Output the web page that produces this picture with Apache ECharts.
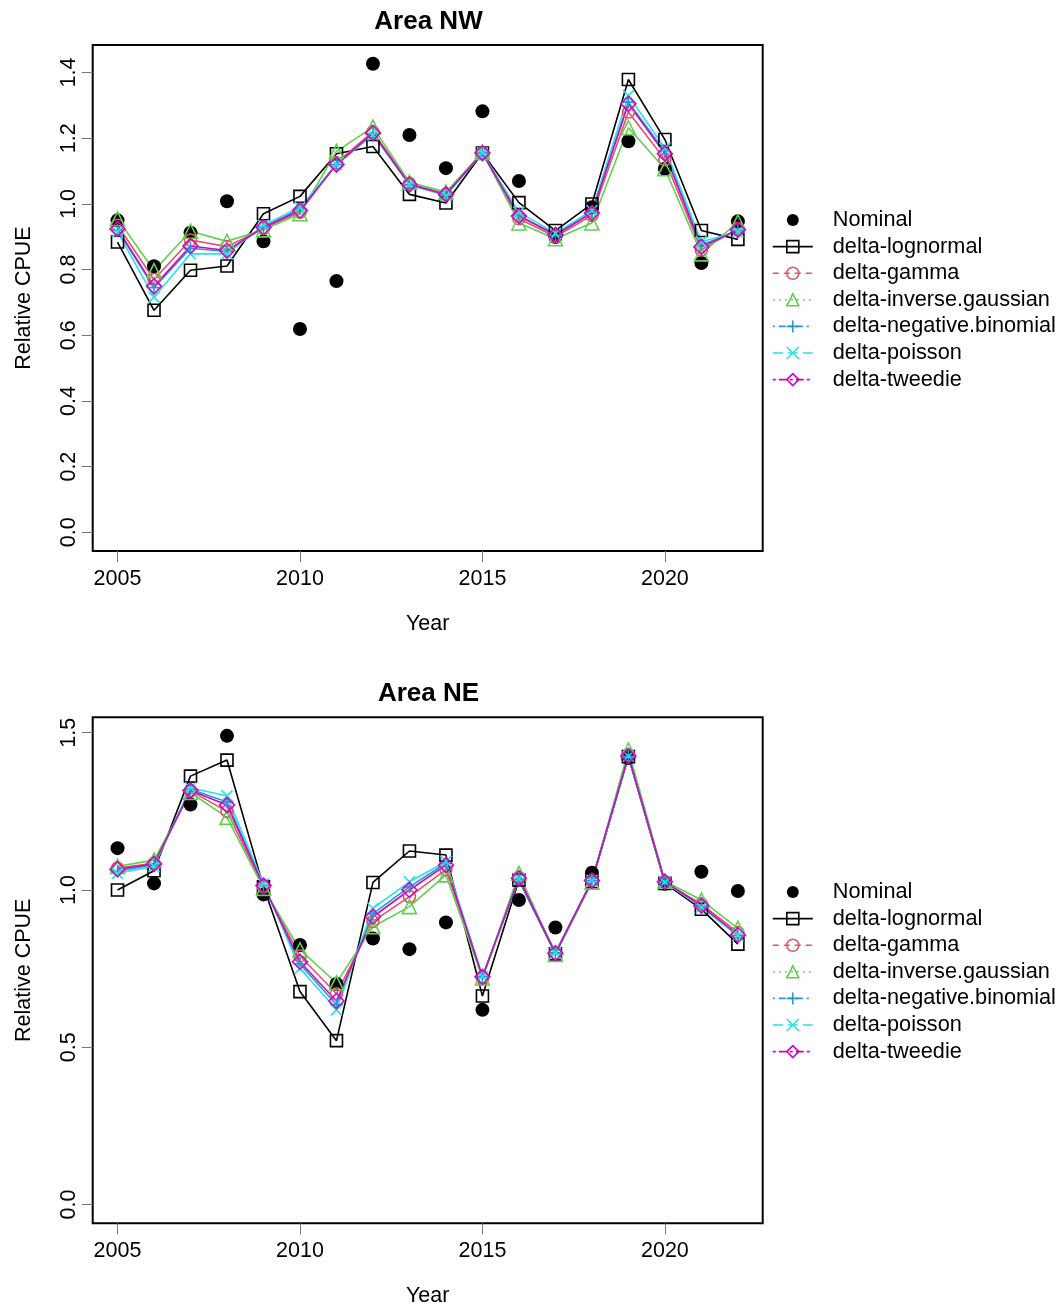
<!DOCTYPE html>
<html>
<head>
<meta charset="utf-8">
<script src="https://cdn.jsdelivr.net/npm/echarts@6/dist/echarts.min.js"></script>
<style>
html,body{margin:0;padding:0;background:#fff;}
#chart{width:1062px;height:1309px;}
</style>
</head>
<body>
<div id="chart"></div>
<script>
// ---------- data ----------
const years = [2005,2006,2007,2008,2009,2010,2011,2012,2013,2014,2015,2016,2017,2018,2019,2020,2021,2022];
const xTicks = [2005,2010,2015,2020];
const nwYTicks = [0.0,0.2,0.4,0.6,0.8,1.0,1.2,1.4];
const neYTicks = [0.0,0.5,1.0,1.5];
const seriesNames = ['Nominal','delta-lognormal','delta-gamma','delta-inverse.gaussian','delta-negative.binomial','delta-poisson','delta-tweedie'];
const panelTitles = ['Area NW','Area NE'];

// Area NW
const nwNominal   = [0.950,0.810,0.912,1.008,0.886,0.619,0.765,1.427,1.210,1.109,1.282,1.070,0.899,0.990,1.191,1.107,0.820,0.947];
const nwLognormal = [0.884,0.676,0.798,0.811,0.970,1.023,1.153,1.175,1.029,1.003,1.155,1.004,0.919,1.000,1.379,1.196,0.919,0.892];
const nwGamma     = [0.935,0.770,0.890,0.870,0.925,0.975,1.125,1.220,1.062,1.030,1.156,0.955,0.900,0.965,1.280,1.135,0.860,0.925];
const nwInvGauss  = [0.955,0.797,0.917,0.886,0.921,0.970,1.160,1.234,1.066,1.036,1.157,0.942,0.894,0.942,1.232,1.107,0.848,0.945];
const nwNegBin    = [0.920,0.745,0.865,0.855,0.930,0.985,1.120,1.213,1.058,1.027,1.155,0.965,0.905,0.975,1.310,1.160,0.875,0.918];
const nwPoisson   = [0.915,0.716,0.848,0.848,0.935,0.990,1.120,1.210,1.060,1.025,1.155,0.975,0.910,0.980,1.330,1.170,0.885,0.915];
const nwTweedie   = [0.924,0.749,0.872,0.858,0.929,0.980,1.120,1.216,1.059,1.029,1.155,0.963,0.906,0.972,1.305,1.153,0.869,0.921];

// Area NE
const neNominal   = [1.133,1.021,1.272,1.490,0.986,0.825,0.701,0.846,0.812,0.897,0.619,0.968,0.881,1.055,1.420,1.020,1.058,0.997];
const neLognormal = [1.000,1.061,1.362,1.413,1.010,0.677,0.521,1.024,1.124,1.111,0.663,1.032,0.797,1.026,1.424,1.021,0.939,0.828];
const neGamma     = [1.070,1.085,1.315,1.250,1.010,0.790,0.670,0.900,0.979,1.065,0.720,1.040,0.800,1.030,1.430,1.025,0.955,0.865];
const neInvGauss  = [1.075,1.095,1.310,1.231,1.005,0.810,0.705,0.883,0.947,1.048,0.720,1.053,0.795,1.025,1.445,1.028,0.968,0.878];
const neNegBin    = [1.060,1.080,1.320,1.280,1.015,0.765,0.635,0.925,1.010,1.085,0.725,1.035,0.800,1.030,1.425,1.025,0.948,0.855];
const nePoisson   = [1.053,1.075,1.325,1.299,1.020,0.751,0.619,0.942,1.026,1.090,0.725,1.035,0.800,1.030,1.425,1.025,0.945,0.855];
const neTweedie   = [1.066,1.083,1.316,1.270,1.014,0.772,0.647,0.915,1.000,1.079,0.724,1.037,0.799,1.030,1.426,1.026,0.950,0.857];

// ---------- styles ----------
const FONT = '"Liberation Sans", Arial, Helvetica, sans-serif';
const colors = ['#000000','#000000','#DF536B','#61D04F','#2297E6','#28E2E5','#CD0BBC'];
const symbols = ['circle','rect','circle','triangle','path://M0,5L10,5M5,0L5,10','path://M0,0L10,10M10,0L0,10','diamond'];
const symbolSizes = [14,12,12,14,13,11,15];
const legendDash = [null,'solid',[6,5],[2,4],[2,4,7,4],[10,5],[3,3,8,3]];
const LW = 1.6;

function panelData(i){
  return i===0
    ? [nwNominal,nwLognormal,nwGamma,nwInvGauss,nwNegBin,nwPoisson,nwTweedie]
    : [neNominal,neLognormal,neGamma,neInvGauss,neNegBin,nePoisson,neTweedie];
}

const grids = [
  {left:92.7, top:45, width:670, height:506},
  {left:92.7, top:717.3, width:670, height:506}
];
const yRanges = [[-0.057,1.484],[-0.0596,1.549]];
const yTickSets = [nwYTicks, neYTicks];

const option = {
  animation:false,
  backgroundColor:'#fff',
  title: panelTitles.map((t,i)=>({
    text:t, left:423.5, top: i===0 ? 4 : 676, textAlign:'center',
    textStyle:{fontFamily:FONT,fontSize:26,fontWeight:'bold',color:'#000'}
  })),
  grid: grids.map(g=>Object.assign({show:true,borderColor:'#000',borderWidth:2,backgroundColor:'transparent',containLabel:false},g)),
  xAxis: [0,1].map(i=>({
    type:'value', gridIndex:i, min:2004.32, max:2022.68,
    name:'Year', nameLocation:'middle', nameGap:62,
    nameTextStyle:{fontFamily:FONT,fontSize:21.5,color:'#000'},
    axisLine:{show:false,onZero:false},
    splitLine:{show:false},
    axisTick:{show:true,length:11,lineStyle:{color:'#777',width:1},customValues:xTicks},
    axisLabel:{show:true,margin:17,fontFamily:FONT,fontSize:21.5,color:'#000',customValues:xTicks,formatter:v=>String(v)}
  })),
  yAxis: [0,1].map(i=>({
    type:'value', gridIndex:i, min:yRanges[i][0], max:yRanges[i][1],
    name:'Relative CPUE', nameLocation:'middle', nameGap:58,
    nameTextStyle:{fontFamily:FONT,fontSize:21.5,color:'#000'},
    axisLine:{show:false,onZero:false},
    splitLine:{show:false},
    axisTick:{show:true,length:11,lineStyle:{color:'#777',width:1},customValues:yTickSets[i]},
    axisLabel:{show:true,rotate:90,margin:13,fontFamily:FONT,fontSize:21.5,color:'#000',customValues:yTickSets[i],formatter:v=>v.toFixed(1)}
  })),
  legend: [0,1].map(i=>({
    orient:'vertical', left:772, top: i===0 ? 209 : 881,
    padding:0, itemWidth:40, itemHeight:15, itemGap:4.6,
    selectedMode:false,
    textStyle:{fontFamily:FONT,fontSize:21.7,color:'#000',padding:[0,0,0,15]},
    data: seriesNames.map((n,k)=>({
      name:n,
      itemStyle: k===0 ? {color:'#000',borderWidth:0} : {color:'transparent',borderColor:colors[k],borderWidth:LW},
      lineStyle: k===0 ? {width:0,opacity:0} : {color:colors[k],width:LW,type:legendDash[k],opacity:1}
    }))
  })),
  series: []
};

[0,1].forEach(p=>{
  const sets = panelData(p);
  seriesNames.forEach((n,k)=>{
    const s = {
      name:n, type:'line', xAxisIndex:p, yAxisIndex:p,
      data: years.map((y,j)=>[y, sets[k][j]]),
      symbol:symbols[k], symbolSize:symbolSizes[k], showSymbol:true,
      clip:false, silent:true,
      emphasis:{disabled:true}
    };
    if(k===0){
      s.itemStyle = {color:'#000',borderWidth:0};
      s.lineStyle = {width:0,opacity:0};
    } else {
      s.itemStyle = {color:'transparent',borderColor:colors[k],borderWidth:LW};
      s.lineStyle = {color:colors[k],width:LW,type:'solid'};
    }
    option.series.push(s);
  });
});

const chart = echarts.init(document.getElementById('chart'),null,{renderer:'canvas'});
chart.setOption(option);
</script>
</body>
</html>
